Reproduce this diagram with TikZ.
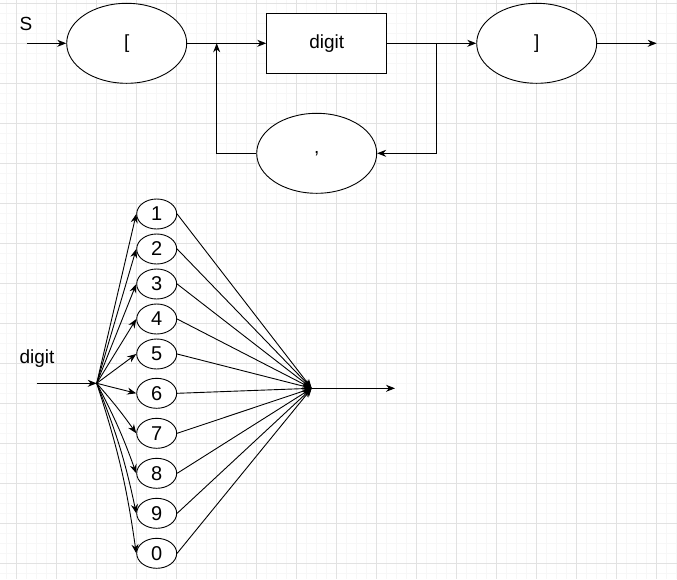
\documentclass[tikz,border=0pt]{standalone}
\usepackage{fontspec}
\setmainfont{Liberation Sans}
\usepackage{tikz}
\usetikzlibrary{shapes.geometric, arrows.meta, positioning, calc}
\definecolor{minorline}{RGB}{247, 247, 247}
\definecolor{majorline}{RGB}{226, 226, 226}

\begin{document}
\begin{tikzpicture}[
    x=1pt, y=-1pt,
    font=\fontsize{19}{22}\selectfont,
    oval/.style={draw, ellipse, line width=0.9pt, fill=white, minimum width=120pt, minimum height=80pt, inner sep=0pt},
    digitoval/.style={draw, ellipse, line width=0.9pt, fill=white, minimum width=40pt, minimum height=30pt, inner sep=0pt, font=\fontsize{20}{22}\selectfont},
    box/.style={draw, rectangle, line width=0.9pt, fill=white, minimum width=120pt, minimum height=60pt, align=center},
    arrow/.style={-{Stealth[length=9pt, width=7pt]}, line width=0.9pt}
]
    % background grid
    \fill[white] (0,0) rectangle (677,579);
    \useasboundingbox (0,0) rectangle (677,579);
    \foreach \i in {0,...,67} \draw[minorline, line width=0.8pt] ({6.7+10*\i},0) -- ({6.7+10*\i},579);
    \foreach \j in {0,...,57} \draw[minorline, line width=0.8pt] (0,{3.3+10*\j}) -- (677,{3.3+10*\j});
    \foreach \i in {0,...,16} \draw[majorline, line width=0.8pt] ({16.7+40*\i},0) -- ({16.7+40*\i},579);
    \foreach \j in {0,...,14} \draw[majorline, line width=0.8pt] (0,{3.3+40*\j}) -- (677,{3.3+40*\j});

    % list syntax
    \node (s) at (26,24) {S};
    \coordinate (sin) at (27,43.3);
    \node[oval] (open) at (126.7,43.3) {[};
    \node[box] (digit) at (326.7,43.3) {digit};
    \node[oval] (close) at (536.7,43.3) {]};
    \node[oval] (comma) at (316.7,153.3) {,};
    \coordinate (join) at (216.7,43.3);
    \coordinate (split) at (436.7,43.3);
    \coordinate (out) at (656.7,43.3);

    \draw[arrow] (sin) -- (open);
    \draw[arrow] (open) -- (digit);
    \draw[arrow] (digit) -- (close);
    \draw[arrow] (close) -- (out);
    \draw[arrow] (split) |- (comma);
    \draw[arrow] (comma) -| (join);

    % digit syntax
    \node (dlabel) at (37,359) {digit};
    \coordinate (din) at (36.7,383.3);
    \coordinate (fan) at (96.7,383.3);
    \coordinate (merge) at (311.7,388.3);
    \coordinate (dout) at (395,388.3);

    \draw[arrow] (din) -- (fan);
    \foreach \d/\y/\b in {1/214/0, 2/249/0, 3/284/0, 4/319/0, 5/354/0, 6/393.3/0, 7/433.3/3, 8/473.3/4, 9/513.3/5, 0/553.3/5} {
        \node[digitoval] (d\d) at (156.7,\y) {\d};
        \draw[arrow] (fan) to[bend left=\b] (d\d.west);
        \draw[arrow] (d\d.east) -- (merge);
    }
    \draw[arrow] (merge) -- (dout);
\end{tikzpicture}
\end{document}
